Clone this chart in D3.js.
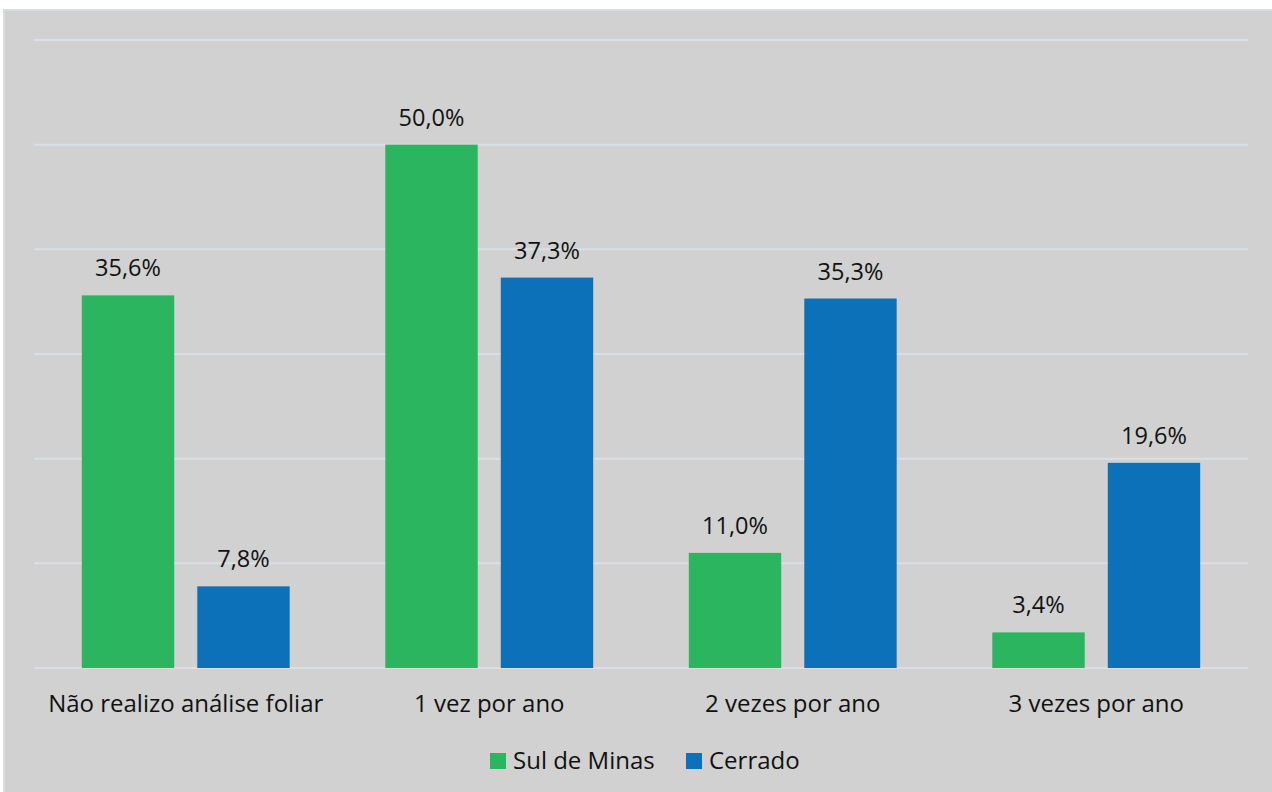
<!DOCTYPE html>
<html>
<head>
<meta charset="utf-8">
<script src="https://cdn.jsdelivr.net/npm/d3@7"></script>
<style>
  html, body { margin: 0; padding: 0; background: #ffffff; }
  svg { display: block; }
  text { font-family: "Open Sans", "Liberation Sans", sans-serif; fill: #111; }
</style>
</head>
<body>
<svg id="chart" width="1272" height="792"></svg>
<script>
// Frequência de análise foliar por região
const categories = ["Não realizo análise foliar", "1 vez por ano", "2 vezes por ano", "3 vezes por ano"];
const seriesNames = ["Sul de Minas", "Cerrado"];
const sulDeMinas = [35.6, 50.0, 11.0, 3.4];
const cerrado = [7.8, 37.3, 35.3, 19.6];
const yTicks = [0, 10, 20, 30, 40, 50, 60];
const colors = ["#2bb55f", "#0c71b9"];

const svg = d3.select("#chart");
const W = 1272, H = 792;

// chart area background with light frame on top/left
svg.append("rect").attr("x", 4).attr("y", 10).attr("width", W).attr("height", H)
  .attr("fill", "#d0d1d0").attr("stroke", "#d8dde0").attr("stroke-width", 2);

const plotLeft = 34, plotRight = 1248, plotTop = 40, plotBottom = 668;

const x0 = d3.scaleBand().domain(categories).range([plotLeft, plotRight]).padding(0);
const x1 = d3.scaleBand().domain(seriesNames).range([0, x0.bandwidth()])
  .paddingInner(0.2).paddingOuter(0.414);
const y = d3.scaleLinear().domain([0, 60]).range([plotBottom, plotTop]);

// gridlines
svg.append("g").selectAll("line").data(yTicks).join("line")
  .attr("x1", plotLeft).attr("x2", plotRight)
  .attr("y1", d => y(d)).attr("y2", d => y(d))
  .attr("stroke", "#d9dfe4").attr("stroke-width", 2);

const fmt = v => v.toFixed(1).replace(".", ",") + "%";
const rows = categories.map((c, i) => ({ cat: c, vals: [sulDeMinas[i], cerrado[i]] }));

const groups = svg.append("g").selectAll("g").data(rows).join("g")
  .attr("transform", d => `translate(${x0(d.cat)},0)`);

groups.selectAll("rect").data(d => d.vals.map((v, j) => ({ s: seriesNames[j], v, j }))).join("rect")
  .attr("x", d => x1(d.s)).attr("width", x1.bandwidth())
  .attr("y", d => y(d.v)).attr("height", d => y(0) - y(d.v))
  .attr("fill", d => colors[d.j]);

groups.selectAll("text.val").data(d => d.vals.map((v, j) => ({ s: seriesNames[j], v, j }))).join("text")
  .attr("class", "val")
  .attr("x", d => x1(d.s) + x1.bandwidth() / 2)
  .attr("y", d => y(d.v) - 19)
  .attr("text-anchor", "middle")
  .style("font-size", "23.5px")
  .text(d => fmt(d.v));

// category axis labels
svg.append("g").selectAll("text").data(categories).join("text")
  .attr("x", d => x0(d) + x0.bandwidth() / 2)
  .attr("y", 712)
  .attr("text-anchor", "middle")
  .style("font-size", "24px")
  .text(d => d);

// legend
const legend = svg.append("g");
const legendItems = [{ name: seriesNames[0], x: 490 }, { name: seriesNames[1], x: 686 }];
legendItems.forEach((d, i) => {
  legend.append("rect").attr("x", d.x).attr("y", 753).attr("width", 16).attr("height", 16).attr("fill", colors[i]);
  legend.append("text").attr("x", d.x + 23).attr("y", 769).style("font-size", "24px").text(d.name);
});
</script>
</body>
</html>
